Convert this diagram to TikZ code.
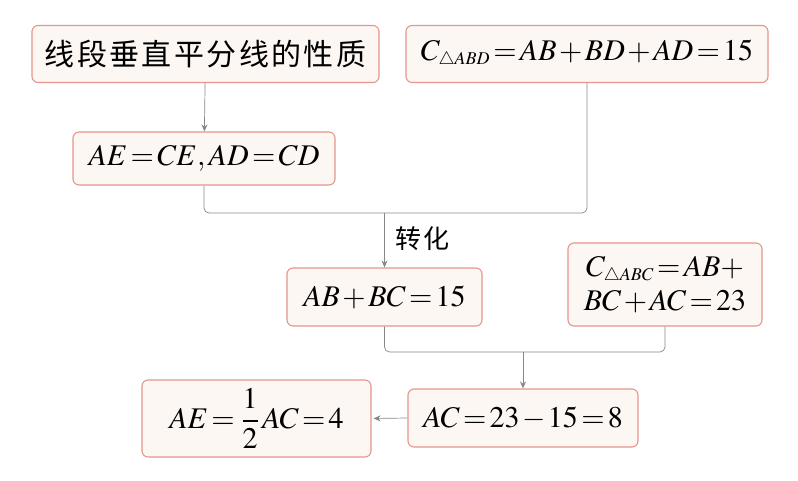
\documentclass[tikz,border=0pt]{standalone}
\usepackage{amsmath}
\usepackage{mathptmx}
\usepackage{fontspec}
\setmainfont{Liberation Serif}
\newfontfamily\cjk[LetterSpace=8]{Noto Sans CJK SC}
\usepackage{tikz}
\usetikzlibrary{arrows.meta, positioning, calc}

\definecolor{boxred}{RGB}{228,150,140}
\definecolor{boxfill}{RGB}{252,247,243}
\definecolor{linegray}{RGB}{135,135,135}
\thickmuskip=2mu
\medmuskip=1.5mu

\begin{document}
\begin{tikzpicture}[
  x=1pt, y=-1pt,
  font=\fontsize{30}{36}\selectfont,
  box/.style={draw=boxred, line width=1.1pt, rounded corners=6pt, fill=boxfill,
              align=center, inner sep=0pt},
  ln/.style={draw=linegray, line width=0.7pt, rounded corners=5pt},
  ar/.style={ln, -{Stealth[length=7pt, width=6pt]}}
]
\useasboundingbox (0,0) rectangle (798,481);
\node[box, minimum width=347pt, minimum height=57pt] (prop) at (205.5,54)
  {\cjk\fontsize{30}{36}\selectfont 线段垂直平分线的性质};
\node[box, minimum width=362pt, minimum height=57pt] (abd) at (587,54)
  {$C_{\scriptscriptstyle\triangle ABD}=AB+BD+AD=15$};
\node[box, minimum width=262pt, minimum height=53pt] (eq) at (204,158.5)
  {$AE=CE,AD=CD$};
\node[box, minimum width=195pt, minimum height=58pt] (sum) at (384.5,297)
  {$AB+BC=15$};
\node[box, minimum width=194pt, minimum height=83pt] (abc) at (665,284.5)
  {$C_{\scriptscriptstyle\triangle ABC}=AB+$\\[-2pt]$BC+AC=23$};
\node[box, minimum width=229pt, minimum height=77pt] (ae) at (256.5,418.5)
  {$AE=\,\dfrac{1}{2}\,AC=4$};
\node[box, minimum width=230pt, minimum height=58pt] (ac) at (523,418)
  {$AC=23-15=8$};
\coordinate (j1) at (sum.north |- 0,213);
\coordinate (j2) at (ac.north |- 0,352);
\draw[ar] (prop) -- (eq);
\draw[ln] (eq.south) |- (j1) -| (abd.south);
\draw[ar] (j1) -- (sum.north);
\node[anchor=west, font=\cjk\fontsize{26}{30}\selectfont] (conv) at (392,239) {转化};
\draw[ln] (sum.south) |- (j2) -| (abc.south);
\draw[ar] (j2) -- (ac.north);
\draw[ar, shorten >=2pt] (ac.west) -- (ae.east);
\end{tikzpicture}
\end{document}
